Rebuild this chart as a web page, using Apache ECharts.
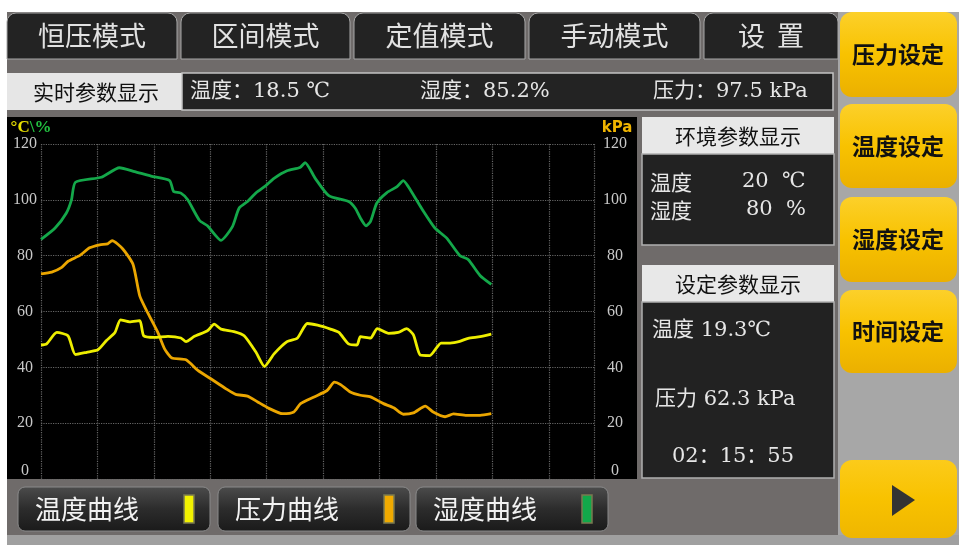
<!DOCTYPE html>
<html>
<head>
<meta charset="utf-8">
<title>曲线监控</title>
<script src="https://cdn.jsdelivr.net/npm/echarts@6/dist/echarts.min.js"></script>
<style>
	html, body { margin: 0; padding: 0; background: #fff; }
	#main { width: 959px; height: 545px; }
</style>
</head>
<body>
<div id="main"></div>
<script>
// 湿度曲线（绿色，℃\% 轴）
const humidityX = [0, 2.5, 4.5, 5.4, 6.1, 10.7, 13.9, 16.6, 19.5, 22.8, 23.5, 24.8, 26, 28.1, 29.5, 31.9, 33.9, 35.1, 36.6, 38.1, 39.8, 41.3, 43.6, 45.9, 46.8, 48.6, 51, 54.5, 55.7, 56.6, 57.6, 58.4, 59.5, 61.3, 63.1, 64.2, 65.1, 67.8, 69.8, 71.9, 74.2, 75.7, 77.8, 79.8];
const humidity = [85.8, 89.9, 95.3, 100, 106.3, 108.1, 111.5, 110.1, 108.5, 106.9, 103, 102.4, 100, 92.6, 90.7, 85.5, 90.3, 97, 99.4, 102.5, 105, 107.7, 110.4, 111.6, 113.3, 107.7, 101.5, 99.4, 97, 93.5, 90.7, 92.3, 98.8, 102.6, 104.7, 106.9, 104.7, 95.8, 89.9, 86.3, 80.1, 78.6, 72.9, 69.7];

// 压力曲线（橙色，kPa 轴）
const pressureX = [0, 1.9, 3.6, 4.8, 6.9, 8.6, 10.4, 11.8, 12.6, 14.5, 16.3, 17.5, 18.9, 20.7, 21.9, 23.2, 25.7, 27.8, 30.1, 32.8, 34.5, 36.6, 38.4, 40.4, 42.8, 44.8, 46, 48.4, 50.7, 52, 53.1, 54.8, 56.6, 58.4, 60.7, 62.5, 64.2, 66, 68.1, 69.5, 71.6, 73.1, 75.4, 77.8, 79.8];
const pressure = [73.5, 74.1, 75.7, 78, 80.1, 82.8, 83.9, 84.2, 85.4, 82.4, 76.9, 65.6, 59.6, 52.5, 46.6, 43.3, 42.7, 38.9, 35.9, 32.3, 30.3, 29.7, 27.6, 25.3, 23.4, 24, 27, 29.4, 31.7, 34.7, 33.8, 31.2, 30, 29.4, 27, 25.5, 23.2, 23.7, 26.1, 24, 22.3, 23.3, 22.8, 22.8, 23.4];

// 温度曲线（黄色）
const tempX = [0, 1, 2.8, 4.8, 6.1, 8.1, 10.1, 11.6, 13.1, 14.1, 15.7, 17.5, 18.2, 20.1, 22.5, 24.8, 25.7, 27.2, 29.5, 30.7, 31.9, 34.2, 36, 38.1, 39.6, 41.3, 43.6, 45.4, 47.2, 49, 51.3, 52.8, 54.5, 56, 56.6, 58.4, 59.6, 61.6, 63.3, 64.8, 66, 67.2, 68.9, 70.9, 72.5, 74.2, 75.7, 77.8, 79.8];
const temp = [48, 48.4, 52.5, 51.3, 44.6, 45.4, 46.3, 49.6, 52.5, 57, 56.3, 56.7, 51.3, 50.7, 51.1, 50.5, 49.2, 51.1, 53.1, 55.5, 53.7, 52.8, 51.3, 45.4, 40.3, 44.8, 49.2, 50.4, 55.7, 55.1, 53.7, 52.5, 48.4, 48, 51, 50.5, 53.9, 52.2, 52.5, 53.9, 51.6, 44.4, 44.2, 48.7, 48.7, 49.3, 50.4, 51, 51.9];

// 界面文字
const tabLabels = ["恒压模式", "区间模式", "定值模式", "手动模式", "设  置"];
const sideButtons = ["压力设定", "温度设定", "湿度设定", "时间设定"];
const curveButtons = ["温度曲线", "压力曲线", "湿度曲线"];
const curveColors = ["#f2f200", "#f0aa00", "#12a84a"];

const serif = "'Liberation Serif', 'Noto Sans CJK SC', serif";
const wide = "'DejaVu Serif', 'Noto Sans CJK SC', serif";
const sans = "'Noto Sans CJK SC', sans-serif";

function rect(x, y, w, h, fill, extra) {
	return Object.assign({
		type: "rect", z: -5, silent: true,
		shape: { x: x, y: y, width: w, height: h, r: (extra && extra.r) || 0 },
		style: { fill: fill, stroke: (extra && extra.stroke) || null, lineWidth: (extra && extra.lw) || 1 },
	}, extra && extra.z != null ? { z: extra.z } : {});
}

function text(str, x, y, font, fill, align) {
	return {
		type: "text", z: 10, silent: true,
		style: { text: str, x: x, y: y, font: font, fill: fill, align: align || "left", verticalAlign: "middle" },
	};
}

function vGrad(c1, c2, c3) {
	return { type: "linear", x: 0, y: 0, x2: 0, y2: 1, colorStops: [{ offset: 0, color: c1 }, { offset: 0.5, color: c2 }, { offset: 1, color: c3 }] };
}

const graphics = [];
// 底板
graphics.push(rect(7, 12, 952, 528, "#6f6b6a", { z: -20 }));
graphics.push(rect(838, 12, 121, 528, "#a7a7a7", { z: -19 }));
graphics.push(rect(7, 535, 952, 10, "#a0a0a0", { z: -19 }));

// 顶部标签页
const tabX = [7, 181, 354, 529, 704];
const tabW = [170, 169, 171, 171, 134];
tabLabels.forEach(function (t, i) {
	graphics.push(rect(tabX[i], 13, tabW[i], 46, "#232323", { r: [9, 9, 0, 0], stroke: "#a8a8a8", lw: 1 }));
	graphics.push(text(t, tabX[i] + tabW[i] / 2, 36, "27px " + sans, "#e2e2e2", "center"));
});

// 实时参数栏
graphics.push(rect(7, 73, 175, 37, "#e6e6e6"));
graphics.push(text("实时参数显示", 96, 92, "21px " + sans, "#111", "center"));
graphics.push(rect(182, 73, 651, 37, "#232323", { stroke: "#c4c4c4", lw: 1.5 }));
graphics.push(text("温度：18.5 ℃", 190, 92, "21px " + wide, "#e6e6e6"));
graphics.push(text("湿度：85.2%", 420, 92, "21px " + wide, "#e6e6e6"));
graphics.push(text("压力：97.5 kPa", 653, 92, "21px " + wide, "#e6e6e6"));

// 曲线区域黑底
graphics.push(rect(7, 117, 630, 362, "#000"));

// 环境参数显示
graphics.push(rect(642, 117, 192, 37, "#e8e8e8"));
graphics.push(text("环境参数显示", 738, 136, "21px " + sans, "#111", "center"));
graphics.push(rect(642, 154, 192, 91, "#222", { stroke: "#b0b0b0", lw: 1.5 }));
graphics.push(text("温度", 650, 182, "21px " + sans, "#e6e6e6"));
graphics.push(text("20  ℃", 742, 182, "21px " + wide, "#e6e6e6"));
graphics.push(text("湿度", 650, 210, "21px " + sans, "#e6e6e6"));
graphics.push(text("80  %", 746, 210, "21px " + wide, "#e6e6e6"));

// 设定参数显示
graphics.push(rect(642, 265, 192, 37, "#e8e8e8"));
graphics.push(text("设定参数显示", 738, 284, "21px " + sans, "#111", "center"));
graphics.push(rect(642, 302, 192, 176, "#222", { stroke: "#b0b0b0", lw: 1.5 }));
graphics.push(text("温度 19.3℃", 652, 331, "21px " + wide, "#e6e6e6"));
graphics.push(text("压力 62.3 kPa", 655, 400, "21px " + wide, "#e6e6e6"));
graphics.push(text("02：15：55", 733, 457, "21px " + wide, "#e6e6e6", "center"));

// 右侧黄色按钮
const sideY = [12, 104, 197, 290];
const sideH = [85, 84, 85, 83];
sideButtons.forEach(function (t, i) {
	graphics.push(rect(840, sideY[i], 117, sideH[i], vGrad("#fcd02a", "#f8c200", "#ebb000"), { r: 12 }));
	graphics.push(text(t, 898, sideY[i] + sideH[i] / 2, "bold 23px " + sans, "#111", "center"));
});
graphics.push(rect(840, 460, 117, 78, vGrad("#fccb1a", "#f8c200", "#efb600"), { r: 12 }));
graphics.push({ type: "polygon", z: 10, silent: true, shape: { points: [[892, 485], [915, 500], [892, 516]] }, style: { fill: "#333" } });

// 底部曲线按钮
const curveX = [18, 218, 416];
curveButtons.forEach(function (t, i) {
	graphics.push(rect(curveX[i], 487, 192, 44, vGrad("#4c4c4c", "#2c2c2c", "#1a1a1a"), { r: 7, stroke: "#8a8a8a", lw: 1 }));
	graphics.push(text(t, curveX[i] + 17, 509, "26px " + sans, "#f2f2f2"));
	graphics.push(rect(curveX[i] + 166, 495, 10, 28, curveColors[i], { z: 5, stroke: "#7a7a50", lw: 1.5 }));
});

const chartDom = document.getElementById("main");
const chart = echarts.init(chartDom, null, { renderer: "canvas" });

const axisLabelStyle = {
	color: "#c8c8c8",
	fontFamily: serif,
	fontSize: 16,
	align: "center",
	formatter: function (v) { return v === 0 ? "{z|0}" : String(v); },
	rich: { z: { color: "#c8c8c8", fontFamily: serif, fontSize: 16, padding: [0, 0, 16, 0] } },
};

const option = {
	backgroundColor: "#ffffff",
	animation: false,
	graphic: graphics,
	grid: { left: 41, right: 365, top: 144, bottom: 66, containLabel: false, outerBoundsMode: "none" },
	xAxis: {
		type: "value", min: 0, max: 98, interval: 10,
		axisLabel: { show: false }, axisTick: { show: false }, axisLine: { show: false },
		splitLine: { show: true, lineStyle: { color: "#666", type: "dotted", width: 1.2 } },
	},
	yAxis: [
		{
			type: "value", min: 0, max: 120, interval: 20, position: "left",
			axisLine: { show: false }, axisTick: { show: false },
			axisLabel: Object.assign({ margin: 16 }, axisLabelStyle),
			splitLine: { show: true, lineStyle: { color: "#666", type: "dotted", width: 1.2 } },
			name: "{a|°C}{b|\\%}", nameLocation: "end", nameGap: 8,
			nameTextStyle: {
				padding: [0, 20, 0, 0],
				rich: {
					a: { color: "#e8e000", fontFamily: serif, fontSize: 17, fontWeight: "bold" },
					b: { color: "#22c040", fontFamily: serif, fontSize: 17, fontWeight: "bold" },
				},
			},
		},
		{
			type: "value", min: 0, max: 120, interval: 20, position: "right",
			axisLine: { show: false }, axisTick: { show: false },
			axisLabel: Object.assign({ margin: 21 }, axisLabelStyle),
			splitLine: { show: false },
			name: "kPa", nameLocation: "end", nameGap: 8,
			nameTextStyle: { color: "#f0b400", fontFamily: "'DejaVu Sans', sans-serif", fontSize: 15, fontWeight: "bold", padding: [0, 0, 0, 46] },
		},
	],
	series: [
		{
			name: "湿度", type: "line", yAxisIndex: 0, showSymbol: false, smooth: 0.2,
			lineStyle: { color: "#14a84a", width: 2.8 },
			data: humidityX.map(function (x, i) { return [x, humidity[i]]; }),
		},
		{
			name: "压力", type: "line", yAxisIndex: 1, showSymbol: false, smooth: 0.2,
			lineStyle: { color: "#eba600", width: 2.8 },
			data: pressureX.map(function (x, i) { return [x, pressure[i]]; }),
		},
		{
			name: "温度", type: "line", yAxisIndex: 0, showSymbol: false, smooth: 0.2,
			lineStyle: { color: "#eeee00", width: 2.8 },
			data: tempX.map(function (x, i) { return [x, temp[i]]; }),
		},
	],
};

chart.setOption(option);
window.addEventListener("resize", function () { chart.resize(); });
</script>
</body>
</html>
